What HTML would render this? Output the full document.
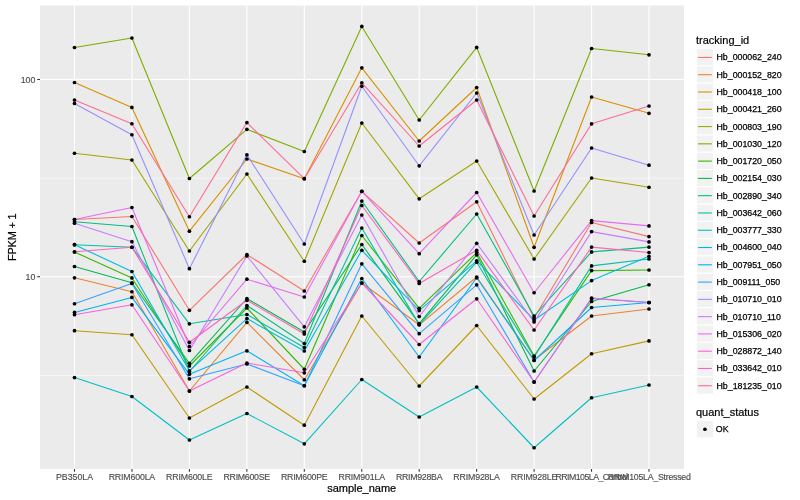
<!DOCTYPE html>
<html><head><meta charset="utf-8"><title>expression plot</title>
<style>html,body{margin:0;padding:0;background:#fff}svg{display:block}text{font-family:"Liberation Sans",Arial,Helvetica,sans-serif}</style></head>
<body>
<svg width="800" height="500" viewBox="0 0 800 500">
<rect width="800" height="500" fill="#fff"/>
<rect x="40.0" y="5.5" width="644.0" height="463.5" fill="#EBEBEB"/>
<line x1="40.0" x2="684.0" y1="178.1" y2="178.1" stroke="#FAFAFA" stroke-width="0.75"/>
<line x1="40.0" x2="684.0" y1="375.4" y2="375.4" stroke="#FAFAFA" stroke-width="0.75"/>
<line x1="40.0" x2="684.0" y1="79.5" y2="79.5" stroke="#fff" stroke-width="1.1"/>
<line x1="40.0" x2="684.0" y1="276.75" y2="276.75" stroke="#fff" stroke-width="1.1"/>
<line x1="74.5" x2="74.5" y1="5.5" y2="469.0" stroke="#fff" stroke-width="1.1"/>
<line x1="131.95" x2="131.95" y1="5.5" y2="469.0" stroke="#fff" stroke-width="1.1"/>
<line x1="189.4" x2="189.4" y1="5.5" y2="469.0" stroke="#fff" stroke-width="1.1"/>
<line x1="246.85000000000002" x2="246.85000000000002" y1="5.5" y2="469.0" stroke="#fff" stroke-width="1.1"/>
<line x1="304.3" x2="304.3" y1="5.5" y2="469.0" stroke="#fff" stroke-width="1.1"/>
<line x1="361.75" x2="361.75" y1="5.5" y2="469.0" stroke="#fff" stroke-width="1.1"/>
<line x1="419.20000000000005" x2="419.20000000000005" y1="5.5" y2="469.0" stroke="#fff" stroke-width="1.1"/>
<line x1="476.65000000000003" x2="476.65000000000003" y1="5.5" y2="469.0" stroke="#fff" stroke-width="1.1"/>
<line x1="534.1" x2="534.1" y1="5.5" y2="469.0" stroke="#fff" stroke-width="1.1"/>
<line x1="591.5500000000001" x2="591.5500000000001" y1="5.5" y2="469.0" stroke="#fff" stroke-width="1.1"/>
<line x1="649.0" x2="649.0" y1="5.5" y2="469.0" stroke="#fff" stroke-width="1.1"/>
<g fill="none" stroke-width="1.1" stroke-linejoin="round" stroke-linecap="butt">
<polyline stroke="#F8766D" points="74.5,219.50 131.9,216.50 189.4,310.30 246.9,254.50 304.3,291.00 361.8,191.30 419.2,243.00 476.7,201.80 534.1,318.00 591.6,222.50 649.0,236.60"/>
<polyline stroke="#EA8331" points="74.5,277.80 131.9,291.75 189.4,391.00 246.9,322.30 304.3,379.75 361.8,283.00 419.2,324.80 476.7,277.00 534.1,360.00 591.6,316.00 649.0,309.00"/>
<polyline stroke="#D89000" points="74.5,82.50 131.9,107.40 189.4,231.20 246.9,159.00 304.3,178.70 361.8,67.80 419.2,141.00 476.7,87.50 534.1,247.30 591.6,97.00 649.0,113.30"/>
<polyline stroke="#C09B00" points="74.5,330.70 131.9,334.75 189.4,418.00 246.9,387.00 304.3,425.20 361.8,316.00 419.2,386.00 476.7,325.50 534.1,399.00 591.6,353.75 649.0,340.90"/>
<polyline stroke="#A3A500" points="74.5,153.25 131.9,160.00 189.4,251.00 246.9,174.00 304.3,261.25 361.8,123.00 419.2,198.80 476.7,161.00 534.1,259.00 591.6,178.00 649.0,187.25"/>
<polyline stroke="#7CAE00" points="74.5,47.50 131.9,38.00 189.4,178.50 246.9,129.30 304.3,151.50 361.8,26.45 419.2,120.00 476.7,47.45 534.1,191.00 591.6,48.50 649.0,54.80"/>
<polyline stroke="#39B600" points="74.5,252.00 131.9,277.95 189.4,366.00 246.9,308.00 304.3,369.25 361.8,235.50 419.2,308.30 476.7,252.60 534.1,356.00 591.6,270.60 649.0,270.00"/>
<polyline stroke="#00BB4E" points="74.5,266.50 131.9,282.75 189.4,363.30 246.9,298.50 304.3,332.00 361.8,244.50 419.2,323.60 476.7,254.80 534.1,371.00 591.6,301.50 649.0,284.75"/>
<polyline stroke="#00BF7D" points="74.5,221.75 131.9,226.50 189.4,371.50 246.9,305.50 304.3,343.50 361.8,201.00 419.2,281.50 476.7,214.00 534.1,316.00 591.6,251.90 649.0,247.10"/>
<polyline stroke="#00C1A3" points="74.5,244.70 131.9,247.25 189.4,323.80 246.9,314.50 304.3,347.50 361.8,228.00 419.2,324.60 476.7,262.20 534.1,357.00 591.6,265.90 649.0,259.00"/>
<polyline stroke="#00BFC4" points="74.5,377.60 131.9,396.50 189.4,440.00 246.9,413.50 304.3,443.80 361.8,379.50 419.2,417.00 476.7,387.00 534.1,447.75 591.6,397.75 649.0,385.00"/>
<polyline stroke="#00BAE0" points="74.5,244.70 131.9,271.50 189.4,370.80 246.9,318.60 304.3,351.00 361.8,250.30 419.2,310.60 476.7,260.80 534.1,320.00 591.6,280.60 649.0,256.25"/>
<polyline stroke="#00B0F6" points="74.5,312.45 131.9,297.45 189.4,374.30 246.9,350.80 304.3,385.75 361.8,278.50 419.2,357.00 476.7,277.80 534.1,360.50 591.6,307.50 649.0,302.50"/>
<polyline stroke="#35A2FF" points="74.5,303.75 131.9,283.50 189.4,378.80 246.9,364.00 304.3,385.75 361.8,263.80 419.2,333.70 476.7,284.80 534.1,382.00 591.6,298.50 649.0,302.50"/>
<polyline stroke="#9590FF" points="74.5,103.40 131.9,134.75 189.4,268.70 246.9,154.80 304.3,244.00 361.8,86.25 419.2,165.80 476.7,93.00 534.1,235.00 591.6,148.00 649.0,165.20"/>
<polyline stroke="#C77CFF" points="74.5,223.25 131.9,241.70 189.4,350.50 246.9,256.00 304.3,326.80 361.8,215.00 419.2,316.50 476.7,243.30 534.1,322.00 591.6,231.60 649.0,241.90"/>
<polyline stroke="#E76BF3" points="74.5,219.50 131.9,207.50 189.4,346.50 246.9,279.20 304.3,297.00 361.8,191.30 419.2,253.70 476.7,192.50 534.1,292.75 591.6,220.60 649.0,225.90"/>
<polyline stroke="#FA62DB" points="74.5,314.70 131.9,304.80 189.4,391.00 246.9,363.00 304.3,372.80 361.8,283.00 419.2,344.50 476.7,298.80 534.1,382.00 591.6,298.00 649.0,302.50"/>
<polyline stroke="#FF62BC" points="74.5,251.75 131.9,247.25 189.4,342.30 246.9,300.30 304.3,334.00 361.8,205.50 419.2,283.50 476.7,250.30 534.1,330.00 591.6,247.10 649.0,252.50"/>
<polyline stroke="#FF6A98" points="74.5,100.00 131.9,123.75 189.4,216.75 246.9,122.55 304.3,178.70 361.8,82.80 419.2,146.00 476.7,100.00 534.1,216.00 591.6,123.80 649.0,106.00"/>
</g>
<g fill="#000">
<circle cx="74.5" cy="219.50" r="1.85"/>
<circle cx="74.5" cy="277.80" r="1.85"/>
<circle cx="74.5" cy="82.50" r="1.85"/>
<circle cx="74.5" cy="330.70" r="1.85"/>
<circle cx="74.5" cy="153.25" r="1.85"/>
<circle cx="74.5" cy="47.50" r="1.85"/>
<circle cx="74.5" cy="252.00" r="1.85"/>
<circle cx="74.5" cy="266.50" r="1.85"/>
<circle cx="74.5" cy="221.75" r="1.85"/>
<circle cx="74.5" cy="244.70" r="1.85"/>
<circle cx="74.5" cy="377.60" r="1.85"/>
<circle cx="74.5" cy="244.70" r="1.85"/>
<circle cx="74.5" cy="312.45" r="1.85"/>
<circle cx="74.5" cy="303.75" r="1.85"/>
<circle cx="74.5" cy="103.40" r="1.85"/>
<circle cx="74.5" cy="223.25" r="1.85"/>
<circle cx="74.5" cy="219.50" r="1.85"/>
<circle cx="74.5" cy="314.70" r="1.85"/>
<circle cx="74.5" cy="251.75" r="1.85"/>
<circle cx="74.5" cy="100.00" r="1.85"/>
<circle cx="131.9" cy="216.50" r="1.85"/>
<circle cx="131.9" cy="291.75" r="1.85"/>
<circle cx="131.9" cy="107.40" r="1.85"/>
<circle cx="131.9" cy="334.75" r="1.85"/>
<circle cx="131.9" cy="160.00" r="1.85"/>
<circle cx="131.9" cy="38.00" r="1.85"/>
<circle cx="131.9" cy="277.95" r="1.85"/>
<circle cx="131.9" cy="282.75" r="1.85"/>
<circle cx="131.9" cy="226.50" r="1.85"/>
<circle cx="131.9" cy="247.25" r="1.85"/>
<circle cx="131.9" cy="396.50" r="1.85"/>
<circle cx="131.9" cy="271.50" r="1.85"/>
<circle cx="131.9" cy="297.45" r="1.85"/>
<circle cx="131.9" cy="283.50" r="1.85"/>
<circle cx="131.9" cy="134.75" r="1.85"/>
<circle cx="131.9" cy="241.70" r="1.85"/>
<circle cx="131.9" cy="207.50" r="1.85"/>
<circle cx="131.9" cy="304.80" r="1.85"/>
<circle cx="131.9" cy="247.25" r="1.85"/>
<circle cx="131.9" cy="123.75" r="1.85"/>
<circle cx="189.4" cy="310.30" r="1.85"/>
<circle cx="189.4" cy="391.00" r="1.85"/>
<circle cx="189.4" cy="231.20" r="1.85"/>
<circle cx="189.4" cy="418.00" r="1.85"/>
<circle cx="189.4" cy="251.00" r="1.85"/>
<circle cx="189.4" cy="178.50" r="1.85"/>
<circle cx="189.4" cy="366.00" r="1.85"/>
<circle cx="189.4" cy="363.30" r="1.85"/>
<circle cx="189.4" cy="371.50" r="1.85"/>
<circle cx="189.4" cy="323.80" r="1.85"/>
<circle cx="189.4" cy="440.00" r="1.85"/>
<circle cx="189.4" cy="370.80" r="1.85"/>
<circle cx="189.4" cy="374.30" r="1.85"/>
<circle cx="189.4" cy="378.80" r="1.85"/>
<circle cx="189.4" cy="268.70" r="1.85"/>
<circle cx="189.4" cy="350.50" r="1.85"/>
<circle cx="189.4" cy="346.50" r="1.85"/>
<circle cx="189.4" cy="391.00" r="1.85"/>
<circle cx="189.4" cy="342.30" r="1.85"/>
<circle cx="189.4" cy="216.75" r="1.85"/>
<circle cx="246.9" cy="254.50" r="1.85"/>
<circle cx="246.9" cy="322.30" r="1.85"/>
<circle cx="246.9" cy="159.00" r="1.85"/>
<circle cx="246.9" cy="387.00" r="1.85"/>
<circle cx="246.9" cy="174.00" r="1.85"/>
<circle cx="246.9" cy="129.30" r="1.85"/>
<circle cx="246.9" cy="308.00" r="1.85"/>
<circle cx="246.9" cy="298.50" r="1.85"/>
<circle cx="246.9" cy="305.50" r="1.85"/>
<circle cx="246.9" cy="314.50" r="1.85"/>
<circle cx="246.9" cy="413.50" r="1.85"/>
<circle cx="246.9" cy="318.60" r="1.85"/>
<circle cx="246.9" cy="350.80" r="1.85"/>
<circle cx="246.9" cy="364.00" r="1.85"/>
<circle cx="246.9" cy="154.80" r="1.85"/>
<circle cx="246.9" cy="256.00" r="1.85"/>
<circle cx="246.9" cy="279.20" r="1.85"/>
<circle cx="246.9" cy="363.00" r="1.85"/>
<circle cx="246.9" cy="300.30" r="1.85"/>
<circle cx="246.9" cy="122.55" r="1.85"/>
<circle cx="304.3" cy="291.00" r="1.85"/>
<circle cx="304.3" cy="379.75" r="1.85"/>
<circle cx="304.3" cy="178.70" r="1.85"/>
<circle cx="304.3" cy="425.20" r="1.85"/>
<circle cx="304.3" cy="261.25" r="1.85"/>
<circle cx="304.3" cy="151.50" r="1.85"/>
<circle cx="304.3" cy="369.25" r="1.85"/>
<circle cx="304.3" cy="332.00" r="1.85"/>
<circle cx="304.3" cy="343.50" r="1.85"/>
<circle cx="304.3" cy="347.50" r="1.85"/>
<circle cx="304.3" cy="443.80" r="1.85"/>
<circle cx="304.3" cy="351.00" r="1.85"/>
<circle cx="304.3" cy="385.75" r="1.85"/>
<circle cx="304.3" cy="385.75" r="1.85"/>
<circle cx="304.3" cy="244.00" r="1.85"/>
<circle cx="304.3" cy="326.80" r="1.85"/>
<circle cx="304.3" cy="297.00" r="1.85"/>
<circle cx="304.3" cy="372.80" r="1.85"/>
<circle cx="304.3" cy="334.00" r="1.85"/>
<circle cx="304.3" cy="178.70" r="1.85"/>
<circle cx="361.8" cy="191.30" r="1.85"/>
<circle cx="361.8" cy="283.00" r="1.85"/>
<circle cx="361.8" cy="67.80" r="1.85"/>
<circle cx="361.8" cy="316.00" r="1.85"/>
<circle cx="361.8" cy="123.00" r="1.85"/>
<circle cx="361.8" cy="26.45" r="1.85"/>
<circle cx="361.8" cy="235.50" r="1.85"/>
<circle cx="361.8" cy="244.50" r="1.85"/>
<circle cx="361.8" cy="201.00" r="1.85"/>
<circle cx="361.8" cy="228.00" r="1.85"/>
<circle cx="361.8" cy="379.50" r="1.85"/>
<circle cx="361.8" cy="250.30" r="1.85"/>
<circle cx="361.8" cy="278.50" r="1.85"/>
<circle cx="361.8" cy="263.80" r="1.85"/>
<circle cx="361.8" cy="86.25" r="1.85"/>
<circle cx="361.8" cy="215.00" r="1.85"/>
<circle cx="361.8" cy="191.30" r="1.85"/>
<circle cx="361.8" cy="283.00" r="1.85"/>
<circle cx="361.8" cy="205.50" r="1.85"/>
<circle cx="361.8" cy="82.80" r="1.85"/>
<circle cx="419.2" cy="243.00" r="1.85"/>
<circle cx="419.2" cy="324.80" r="1.85"/>
<circle cx="419.2" cy="141.00" r="1.85"/>
<circle cx="419.2" cy="386.00" r="1.85"/>
<circle cx="419.2" cy="198.80" r="1.85"/>
<circle cx="419.2" cy="120.00" r="1.85"/>
<circle cx="419.2" cy="308.30" r="1.85"/>
<circle cx="419.2" cy="323.60" r="1.85"/>
<circle cx="419.2" cy="281.50" r="1.85"/>
<circle cx="419.2" cy="324.60" r="1.85"/>
<circle cx="419.2" cy="417.00" r="1.85"/>
<circle cx="419.2" cy="310.60" r="1.85"/>
<circle cx="419.2" cy="357.00" r="1.85"/>
<circle cx="419.2" cy="333.70" r="1.85"/>
<circle cx="419.2" cy="165.80" r="1.85"/>
<circle cx="419.2" cy="316.50" r="1.85"/>
<circle cx="419.2" cy="253.70" r="1.85"/>
<circle cx="419.2" cy="344.50" r="1.85"/>
<circle cx="419.2" cy="283.50" r="1.85"/>
<circle cx="419.2" cy="146.00" r="1.85"/>
<circle cx="476.7" cy="201.80" r="1.85"/>
<circle cx="476.7" cy="277.00" r="1.85"/>
<circle cx="476.7" cy="87.50" r="1.85"/>
<circle cx="476.7" cy="325.50" r="1.85"/>
<circle cx="476.7" cy="161.00" r="1.85"/>
<circle cx="476.7" cy="47.45" r="1.85"/>
<circle cx="476.7" cy="252.60" r="1.85"/>
<circle cx="476.7" cy="254.80" r="1.85"/>
<circle cx="476.7" cy="214.00" r="1.85"/>
<circle cx="476.7" cy="262.20" r="1.85"/>
<circle cx="476.7" cy="387.00" r="1.85"/>
<circle cx="476.7" cy="260.80" r="1.85"/>
<circle cx="476.7" cy="277.80" r="1.85"/>
<circle cx="476.7" cy="284.80" r="1.85"/>
<circle cx="476.7" cy="93.00" r="1.85"/>
<circle cx="476.7" cy="243.30" r="1.85"/>
<circle cx="476.7" cy="192.50" r="1.85"/>
<circle cx="476.7" cy="298.80" r="1.85"/>
<circle cx="476.7" cy="250.30" r="1.85"/>
<circle cx="476.7" cy="100.00" r="1.85"/>
<circle cx="534.1" cy="318.00" r="1.85"/>
<circle cx="534.1" cy="360.00" r="1.85"/>
<circle cx="534.1" cy="247.30" r="1.85"/>
<circle cx="534.1" cy="399.00" r="1.85"/>
<circle cx="534.1" cy="259.00" r="1.85"/>
<circle cx="534.1" cy="191.00" r="1.85"/>
<circle cx="534.1" cy="356.00" r="1.85"/>
<circle cx="534.1" cy="371.00" r="1.85"/>
<circle cx="534.1" cy="316.00" r="1.85"/>
<circle cx="534.1" cy="357.00" r="1.85"/>
<circle cx="534.1" cy="447.75" r="1.85"/>
<circle cx="534.1" cy="320.00" r="1.85"/>
<circle cx="534.1" cy="360.50" r="1.85"/>
<circle cx="534.1" cy="382.00" r="1.85"/>
<circle cx="534.1" cy="235.00" r="1.85"/>
<circle cx="534.1" cy="322.00" r="1.85"/>
<circle cx="534.1" cy="292.75" r="1.85"/>
<circle cx="534.1" cy="382.00" r="1.85"/>
<circle cx="534.1" cy="330.00" r="1.85"/>
<circle cx="534.1" cy="216.00" r="1.85"/>
<circle cx="591.6" cy="222.50" r="1.85"/>
<circle cx="591.6" cy="316.00" r="1.85"/>
<circle cx="591.6" cy="97.00" r="1.85"/>
<circle cx="591.6" cy="353.75" r="1.85"/>
<circle cx="591.6" cy="178.00" r="1.85"/>
<circle cx="591.6" cy="48.50" r="1.85"/>
<circle cx="591.6" cy="270.60" r="1.85"/>
<circle cx="591.6" cy="301.50" r="1.85"/>
<circle cx="591.6" cy="251.90" r="1.85"/>
<circle cx="591.6" cy="265.90" r="1.85"/>
<circle cx="591.6" cy="397.75" r="1.85"/>
<circle cx="591.6" cy="280.60" r="1.85"/>
<circle cx="591.6" cy="307.50" r="1.85"/>
<circle cx="591.6" cy="298.50" r="1.85"/>
<circle cx="591.6" cy="148.00" r="1.85"/>
<circle cx="591.6" cy="231.60" r="1.85"/>
<circle cx="591.6" cy="220.60" r="1.85"/>
<circle cx="591.6" cy="298.00" r="1.85"/>
<circle cx="591.6" cy="247.10" r="1.85"/>
<circle cx="591.6" cy="123.80" r="1.85"/>
<circle cx="649.0" cy="236.60" r="1.85"/>
<circle cx="649.0" cy="309.00" r="1.85"/>
<circle cx="649.0" cy="113.30" r="1.85"/>
<circle cx="649.0" cy="340.90" r="1.85"/>
<circle cx="649.0" cy="187.25" r="1.85"/>
<circle cx="649.0" cy="54.80" r="1.85"/>
<circle cx="649.0" cy="270.00" r="1.85"/>
<circle cx="649.0" cy="284.75" r="1.85"/>
<circle cx="649.0" cy="247.10" r="1.85"/>
<circle cx="649.0" cy="259.00" r="1.85"/>
<circle cx="649.0" cy="385.00" r="1.85"/>
<circle cx="649.0" cy="256.25" r="1.85"/>
<circle cx="649.0" cy="302.50" r="1.85"/>
<circle cx="649.0" cy="302.50" r="1.85"/>
<circle cx="649.0" cy="165.20" r="1.85"/>
<circle cx="649.0" cy="241.90" r="1.85"/>
<circle cx="649.0" cy="225.90" r="1.85"/>
<circle cx="649.0" cy="302.50" r="1.85"/>
<circle cx="649.0" cy="252.50" r="1.85"/>
<circle cx="649.0" cy="106.00" r="1.85"/>
</g>
<g stroke="#333" stroke-width="1.07">
<line x1="37.25" x2="40.0" y1="79.5" y2="79.5"/>
<line x1="37.25" x2="40.0" y1="276.75" y2="276.75"/>
<line x1="74.5" x2="74.5" y1="469.0" y2="471.75"/>
<line x1="131.95" x2="131.95" y1="469.0" y2="471.75"/>
<line x1="189.4" x2="189.4" y1="469.0" y2="471.75"/>
<line x1="246.85000000000002" x2="246.85000000000002" y1="469.0" y2="471.75"/>
<line x1="304.3" x2="304.3" y1="469.0" y2="471.75"/>
<line x1="361.75" x2="361.75" y1="469.0" y2="471.75"/>
<line x1="419.20000000000005" x2="419.20000000000005" y1="469.0" y2="471.75"/>
<line x1="476.65000000000003" x2="476.65000000000003" y1="469.0" y2="471.75"/>
<line x1="534.1" x2="534.1" y1="469.0" y2="471.75"/>
<line x1="591.5500000000001" x2="591.5500000000001" y1="469.0" y2="471.75"/>
<line x1="649.0" x2="649.0" y1="469.0" y2="471.75"/>
</g>
<g font-size="8.8" fill="#4D4D4D" stroke="#4D4D4D" stroke-width="0.15">
<text x="35.4" y="82.7" text-anchor="end">100</text>
<text x="35.4" y="279.95" text-anchor="end">10</text>
<text x="74.50" y="480.3" text-anchor="middle">PB350LA</text>
<text x="131.95" y="480.3" text-anchor="middle" textLength="46.6" lengthAdjust="spacing">RRIM600LA</text>
<text x="189.40" y="480.3" text-anchor="middle" textLength="46.6" lengthAdjust="spacing">RRIM600LE</text>
<text x="246.85" y="480.3" text-anchor="middle" textLength="46.6" lengthAdjust="spacing">RRIM600SE</text>
<text x="304.30" y="480.3" text-anchor="middle" textLength="46.6" lengthAdjust="spacing">RRIM600PE</text>
<text x="361.75" y="480.3" text-anchor="middle" textLength="46.6" lengthAdjust="spacing">RRIM901LA</text>
<text x="419.20" y="480.3" text-anchor="middle" textLength="46.6" lengthAdjust="spacing">RRIM928BA</text>
<text x="476.65" y="480.3" text-anchor="middle" textLength="46.6" lengthAdjust="spacing">RRIM928LA</text>
<text x="534.10" y="480.3" text-anchor="middle" textLength="46.6" lengthAdjust="spacing">RRIM928LE</text>
<text x="591.70" y="480.3" text-anchor="middle" textLength="72.5" lengthAdjust="spacing">RRIM105LA_Control</text>
<text x="649.30" y="480.3" text-anchor="middle" textLength="83" lengthAdjust="spacing">RRIM105LA_Stressed</text>
</g>
<g font-size="11" fill="#000" stroke="#000" stroke-width="0.2">
<text x="361.7" y="491.7" text-anchor="middle">sample_name</text>
<text transform="translate(15.9,237.2) rotate(-90)" text-anchor="middle" textLength="47.6" lengthAdjust="spacing">FPKM + 1</text>
<text x="696" y="43.6">tracking_id</text>
<text x="696" y="416.2">quant_status</text>
</g>
<g>
<rect x="696.3" y="48.60" width="17.28" height="17.28" fill="#F2F2F2" stroke="#fff" stroke-width="1.07"/>
<line x1="698.03" x2="711.85" y1="57.44" y2="57.44" stroke="#F8766D" stroke-width="1.1"/>
<rect x="696.3" y="65.88" width="17.28" height="17.28" fill="#F2F2F2" stroke="#fff" stroke-width="1.07"/>
<line x1="698.03" x2="711.85" y1="74.72" y2="74.72" stroke="#EA8331" stroke-width="1.1"/>
<rect x="696.3" y="83.16" width="17.28" height="17.28" fill="#F2F2F2" stroke="#fff" stroke-width="1.07"/>
<line x1="698.03" x2="711.85" y1="92.00" y2="92.00" stroke="#D89000" stroke-width="1.1"/>
<rect x="696.3" y="100.44" width="17.28" height="17.28" fill="#F2F2F2" stroke="#fff" stroke-width="1.07"/>
<line x1="698.03" x2="711.85" y1="109.28" y2="109.28" stroke="#C09B00" stroke-width="1.1"/>
<rect x="696.3" y="117.72" width="17.28" height="17.28" fill="#F2F2F2" stroke="#fff" stroke-width="1.07"/>
<line x1="698.03" x2="711.85" y1="126.56" y2="126.56" stroke="#A3A500" stroke-width="1.1"/>
<rect x="696.3" y="135.00" width="17.28" height="17.28" fill="#F2F2F2" stroke="#fff" stroke-width="1.07"/>
<line x1="698.03" x2="711.85" y1="143.84" y2="143.84" stroke="#7CAE00" stroke-width="1.1"/>
<rect x="696.3" y="152.28" width="17.28" height="17.28" fill="#F2F2F2" stroke="#fff" stroke-width="1.07"/>
<line x1="698.03" x2="711.85" y1="161.12" y2="161.12" stroke="#39B600" stroke-width="1.1"/>
<rect x="696.3" y="169.56" width="17.28" height="17.28" fill="#F2F2F2" stroke="#fff" stroke-width="1.07"/>
<line x1="698.03" x2="711.85" y1="178.40" y2="178.40" stroke="#00BB4E" stroke-width="1.1"/>
<rect x="696.3" y="186.84" width="17.28" height="17.28" fill="#F2F2F2" stroke="#fff" stroke-width="1.07"/>
<line x1="698.03" x2="711.85" y1="195.68" y2="195.68" stroke="#00BF7D" stroke-width="1.1"/>
<rect x="696.3" y="204.12" width="17.28" height="17.28" fill="#F2F2F2" stroke="#fff" stroke-width="1.07"/>
<line x1="698.03" x2="711.85" y1="212.96" y2="212.96" stroke="#00C1A3" stroke-width="1.1"/>
<rect x="696.3" y="221.40" width="17.28" height="17.28" fill="#F2F2F2" stroke="#fff" stroke-width="1.07"/>
<line x1="698.03" x2="711.85" y1="230.24" y2="230.24" stroke="#00BFC4" stroke-width="1.1"/>
<rect x="696.3" y="238.68" width="17.28" height="17.28" fill="#F2F2F2" stroke="#fff" stroke-width="1.07"/>
<line x1="698.03" x2="711.85" y1="247.52" y2="247.52" stroke="#00BAE0" stroke-width="1.1"/>
<rect x="696.3" y="255.96" width="17.28" height="17.28" fill="#F2F2F2" stroke="#fff" stroke-width="1.07"/>
<line x1="698.03" x2="711.85" y1="264.80" y2="264.80" stroke="#00B0F6" stroke-width="1.1"/>
<rect x="696.3" y="273.24" width="17.28" height="17.28" fill="#F2F2F2" stroke="#fff" stroke-width="1.07"/>
<line x1="698.03" x2="711.85" y1="282.08" y2="282.08" stroke="#35A2FF" stroke-width="1.1"/>
<rect x="696.3" y="290.52" width="17.28" height="17.28" fill="#F2F2F2" stroke="#fff" stroke-width="1.07"/>
<line x1="698.03" x2="711.85" y1="299.36" y2="299.36" stroke="#9590FF" stroke-width="1.1"/>
<rect x="696.3" y="307.80" width="17.28" height="17.28" fill="#F2F2F2" stroke="#fff" stroke-width="1.07"/>
<line x1="698.03" x2="711.85" y1="316.64" y2="316.64" stroke="#C77CFF" stroke-width="1.1"/>
<rect x="696.3" y="325.08" width="17.28" height="17.28" fill="#F2F2F2" stroke="#fff" stroke-width="1.07"/>
<line x1="698.03" x2="711.85" y1="333.92" y2="333.92" stroke="#E76BF3" stroke-width="1.1"/>
<rect x="696.3" y="342.36" width="17.28" height="17.28" fill="#F2F2F2" stroke="#fff" stroke-width="1.07"/>
<line x1="698.03" x2="711.85" y1="351.20" y2="351.20" stroke="#FA62DB" stroke-width="1.1"/>
<rect x="696.3" y="359.64" width="17.28" height="17.28" fill="#F2F2F2" stroke="#fff" stroke-width="1.07"/>
<line x1="698.03" x2="711.85" y1="368.48" y2="368.48" stroke="#FF62BC" stroke-width="1.1"/>
<rect x="696.3" y="376.92" width="17.28" height="17.28" fill="#F2F2F2" stroke="#fff" stroke-width="1.07"/>
<line x1="698.03" x2="711.85" y1="385.76" y2="385.76" stroke="#FF6A98" stroke-width="1.1"/>
</g>
<g font-size="8.8" fill="#000" stroke="#000" stroke-width="0.25">
<text x="716.5" y="60.39">Hb_000062_240</text>
<text x="716.5" y="77.67">Hb_000152_820</text>
<text x="716.5" y="94.95">Hb_000418_100</text>
<text x="716.5" y="112.23">Hb_000421_260</text>
<text x="716.5" y="129.51">Hb_000803_190</text>
<text x="716.5" y="146.79">Hb_001030_120</text>
<text x="716.5" y="164.07">Hb_001720_050</text>
<text x="716.5" y="181.35">Hb_002154_030</text>
<text x="716.5" y="198.63">Hb_002890_340</text>
<text x="716.5" y="215.91">Hb_003642_060</text>
<text x="716.5" y="233.19">Hb_003777_330</text>
<text x="716.5" y="250.47">Hb_004600_040</text>
<text x="716.5" y="267.75">Hb_007951_050</text>
<text x="716.5" y="285.03">Hb_009111_050</text>
<text x="716.5" y="302.31">Hb_010710_010</text>
<text x="716.5" y="319.59">Hb_010710_110</text>
<text x="716.5" y="336.87">Hb_015306_020</text>
<text x="716.5" y="354.15">Hb_028872_140</text>
<text x="716.5" y="371.43">Hb_033642_010</text>
<text x="716.5" y="388.71">Hb_181235_010</text>
</g>
<rect x="696.3" y="420.6" width="17.28" height="17.28" fill="#F2F2F2" stroke="#fff" stroke-width="1.07"/>
<circle cx="704.94" cy="429.24" r="1.85" fill="#000"/>
<text x="715.8" y="432.39" font-size="8.8" fill="#000" stroke="#000" stroke-width="0.25">OK</text>
</svg>
</body></html>
